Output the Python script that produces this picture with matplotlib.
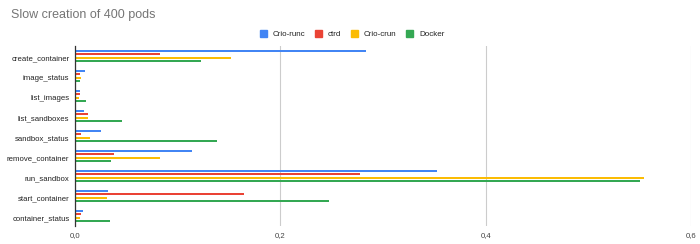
import numpy as np
import matplotlib
matplotlib.use("Agg")
import matplotlib.pyplot as plt
from matplotlib.patches import Patch

plt.rcParams['font.family'] = ['Liberation Sans', 'DejaVu Sans']

# data (seconds)
categories = ['create_container', 'image_status', 'list_images', 'list_sandboxes',
              'sandbox_status', 'remove_container', 'run_sandbox', 'start_container',
              'container_status']
crio_runc = [0.283, 0.010, 0.0045, 0.009, 0.025, 0.114, 0.353, 0.032, 0.008]
ctrd = [0.083, 0.005, 0.0045, 0.013, 0.006, 0.038, 0.278, 0.165, 0.006]
crio_crun = [0.152, 0.006, 0.004, 0.013, 0.015, 0.083, 0.554, 0.031, 0.005]
docker = [0.123, 0.0045, 0.011, 0.046, 0.138, 0.035, 0.550, 0.247, 0.0345]

series = ['Crio-runc', 'ctrd', 'Crio-crun', 'Docker']
colors = ['#4285F4', '#EA4335', '#FBBC04', '#34A853']
values = [crio_runc, ctrd, crio_crun, docker]

fig = plt.figure(figsize=(7, 2.44), dpi=100)
ax = fig.add_axes([75 / 700, 1 - 226 / 244, (691 - 75) / 700, (226 - 46) / 244])

y = np.arange(len(categories))
step = 0.167
for i, (vals, col) in enumerate(zip(values, colors)):
    ax.barh(y + (i - 1.5) * step, vals, height=0.11, color=col, zorder=3)

ax.set_ylim(len(categories) - 0.5, -0.5)
ax.set_xlim(0, 0.6)
ax.set_yticks(y + 0.1)
ax.set_yticklabels(categories, fontsize=5.6, color='#222222')
ax.set_xticks([0, 0.2, 0.4, 0.6])
ax.set_xticklabels(['0,0', '0,2', '0,4', '0,6'], fontsize=5.6, color='#444444')
ax.tick_params(length=0, pad=4)
ax.grid(axis='x', color='#cccccc', linewidth=0.8, zorder=0)
for s in ['top', 'right', 'bottom']:
    ax.spines[s].set_visible(False)
ax.spines['left'].set_color('#333333')
ax.spines['left'].set_linewidth(0.9)
ax.spines['left'].set_zorder(4)

fig.text(11 / 700, 1 - 15 / 244, 'Slow creation of 400 pods', fontsize=9.0,
         color='#757575', va='center', ha='left')

handles = [Patch(color=c, label=s) for s, c in zip(series, colors)]
fig.legend(handles=handles, loc='center', bbox_to_anchor=(352 / 700, 1 - 34 / 244),
           ncol=4, frameon=False, fontsize=5.8, handlelength=0.9, handleheight=0.9,
           handletextpad=0.7, columnspacing=1.2, labelcolor='#222222')

fig.savefig('out.png', dpi=100)
